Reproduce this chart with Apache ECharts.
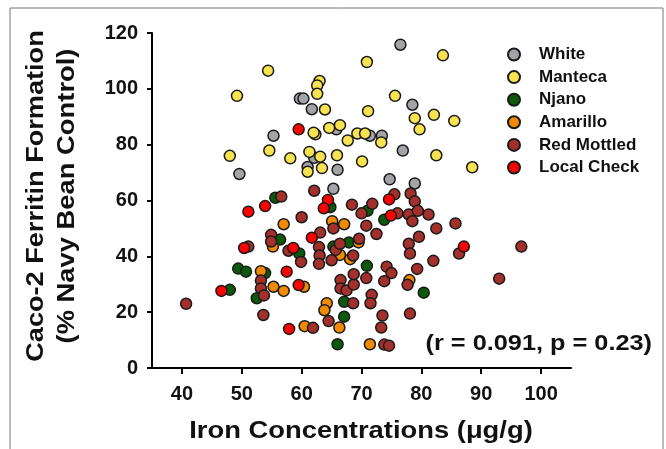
<!DOCTYPE html>
<html>
<head>
<meta charset="utf-8">
<script src="https://cdn.jsdelivr.net/npm/echarts@6/dist/echarts.min.js"></script>
<style>html,body{margin:0;padding:0;background:#fff;}#c{width:666px;height:449px;}</style>
</head>
<body>
<div id="c"></div>
<script>
const seriesNames = ['White', 'Manteca', 'Njano', 'Amarillo', 'Red Mottled', 'Local Check'];
const xTicks = [40, 50, 60, 70, 80, 90, 100];
const yTicks = [0, 20, 40, 60, 80, 100, 120];

const white = [[76.5,115.8],[59.7,96.5],[60.3,96.5],[61.7,92.7],[55.3,83.2],[65.8,85.5],[71.4,83.2],[73.4,83.2],[78.5,94.3],[49.6,69.5],[61.0,72],[62.1,75.3],[66.0,71],[65.3,64.2],[76.9,77.9],[74.7,67.6],[78.9,66.1]];
const manteca = [[83.6,112],[70.9,109.6],[54.4,106.5],[49.2,97.5],[63.0,102.8],[62.6,101.2],[62.6,98.2],[63.9,92.6],[75.6,97.5],[82.1,90.7],[78.9,89.5],[85.5,88.5],[71.1,92],[79.7,85.5],[64.6,86],[66.4,87],[62.3,83.7],[62.0,84.3],[69.3,84],[70.6,84],[67.7,81.5],[73.3,80.8],[48.0,76],[54.6,77.9],[58.1,75.1],[61.3,77.4],[63.1,75.7],[65.9,76.2],[63.4,71.6],[61.0,70.3],[70.1,74],[82.5,76.2],[88.5,71.9]];
const njano = [[55.6,61],[64.8,57.6],[71.0,56.3],[73.8,53.1],[56.4,46],[59.6,41],[65.3,43.5],[67.9,45],[49.4,35.6],[50.7,34.5],[53.9,34],[48.0,28],[52.5,25],[70.9,36.6],[67.1,23.7],[67.1,18.4],[66.0,8.5],[80.4,27]];
const amarillo = [[57.0,51.5],[65.1,52.6],[67.1,51.5],[55.2,43.5],[69.5,45],[66.4,40.5],[68.1,39],[53.2,34.7],[55.3,29.1],[57.0,27.6],[60.4,29.1],[78.0,31.5],[64.2,23.2],[63.8,20.7],[60.5,15],[66.3,14.5],[71.4,8.5]];
const redMottled = [[62.1,63.5],[56.6,61.4],[75.5,62.2],[78.2,62.5],[78.9,59.7],[68.4,58.5],[71.8,58.8],[70.0,55.4],[76.0,55.4],[77.9,55],[79.4,56.3],[81.2,55],[78.5,52.6],[70.8,51],[72.5,48],[82.5,50],[85.7,51.8],[60.0,54],[63.1,48.5],[65.3,50],[54.9,47.7],[54.9,45.3],[57.8,42],[59.9,38],[62.9,43.3],[63.0,40.3],[62.9,37.3],[65.0,38.6],[65.7,42.3],[66.4,44.5],[68.6,40.3],[69.6,46.3],[77.9,44.5],[78.1,41],[79.6,47],[79.3,35.5],[74.2,36.3],[75.0,34],[82.0,38.4],[96.7,43.5],[93.0,32],[86.3,41],[51.1,43.5],[53.2,31.3],[53.2,28.5],[53.7,26],[53.6,19],[40.7,23],[66.5,31.5],[66.5,28.5],[67.5,27.8],[68.7,29.9],[68.7,33.6],[70.8,32.2],[71.7,26.2],[71.5,23.2],[68.6,23.2],[64.5,16.8],[61.9,14.4],[73.5,18.8],[73.3,14.5],[73.8,8.4],[74.6,8],[73.8,31.1],[77.7,29.8],[78.1,19.5]];
const localCheck = [[59.5,85.5],[51.1,56],[53.9,58],[64.4,60.2],[63.7,57.2],[74.6,60.4],[74.9,54.6],[50.4,43],[58.6,43],[61.7,46.7],[57.5,34.5],[59.5,29.7],[46.6,27.6],[57.9,14],[87.1,43.5]];

const seriesData = [white, manteca, njano, amarillo, redMottled, localCheck];
const colors = ['#a4a4a8', '#f7e24f', '#0b5a0b', '#f28a00', '#a3302b', '#ff0000'];

const FONT = '"Liberation Sans", Arial, Helvetica, sans-serif';
const chart = echarts.init(document.getElementById('c'), null, {renderer: 'canvas'});

const series = seriesNames.map((n, i) => ({
  name: n,
  type: 'scatter',
  data: seriesData[i],
  symbol: 'circle',
  symbolSize: 11,
  itemStyle: {color: colors[i], borderColor: '#1a1a1a', borderWidth: 1.5, opacity: 1},
  emphasis: {disabled: true}
}));

chart.setOption({
  animation: false,
  backgroundColor: '#fff',
  grid: {left: 152, right: 95, top: 33, bottom: 81, containLabel: false},
  xAxis: {
    type: 'value', min: 35, max: 105,
    splitLine: {show: false},
    axisLine: {show: true, onZero: false, lineStyle: {color: '#000', width: 2}},
    axisTick: {show: true, length: 6, lineStyle: {color: '#000', width: 2}, customValues: xTicks},
    axisLabel: {margin: 16, color: '#111', fontSize: 20, fontWeight: 'bold', fontFamily: FONT, customValues: xTicks}
  },
  yAxis: {
    type: 'value', min: 0, max: 120, interval: 20,
    splitLine: {show: false},
    axisLine: {show: true, onZero: false, lineStyle: {color: '#000', width: 2}},
    axisTick: {show: true, length: 5, lineStyle: {color: '#000', width: 2}, customValues: yTicks},
    axisLabel: {margin: 14, color: '#111', fontSize: 20, fontWeight: 'bold', fontFamily: FONT, customValues: yTicks}
  },
  legend: {
    orient: 'vertical', left: 502, top: 41,
    itemWidth: 12, itemHeight: 12, itemGap: 5.6,
    icon: 'circle',
    data: seriesNames,
    textStyle: {fontSize: 17, fontWeight: 'bold', color: '#111', fontFamily: FONT, padding: [0, 0, 0, 14]},
    selectedMode: false
  },
  graphic: [
    {type: 'rect', shape: {x: 10, y: 8, width: 653, height: 460}, style: {fill: 'none', stroke: '#777', lineWidth: 1}, silent: true},
    {type: 'text', x: 36, y: 196, rotation: Math.PI / 2, scaleX: 1.13,
     style: {text: 'Caco-2 Ferritin Formation', font: 'bold 24px ' + FONT, fill: '#111', textAlign: 'center', textVerticalAlign: 'middle'}},
    {type: 'text', x: 67, y: 196, rotation: Math.PI / 2, scaleX: 1.14,
     style: {text: '(% Navy Bean Control)', font: 'bold 24px ' + FONT, fill: '#111', textAlign: 'center', textVerticalAlign: 'middle'}},
    {type: 'text', x: 361, y: 431, scaleX: 1.14,
     style: {text: 'Iron Concentrations (\u03bcg/g)', font: 'bold 24px ' + FONT, fill: '#111', textAlign: 'center', textVerticalAlign: 'middle'}},
    {type: 'text', x: 652, y: 344, scaleX: 1.15,
     style: {text: '(r = 0.091, p = 0.23)', font: 'bold 22px ' + FONT, fill: '#111', textAlign: 'right', textVerticalAlign: 'middle'}}
  ],
  series: series
});
</script>
</body>
</html>
